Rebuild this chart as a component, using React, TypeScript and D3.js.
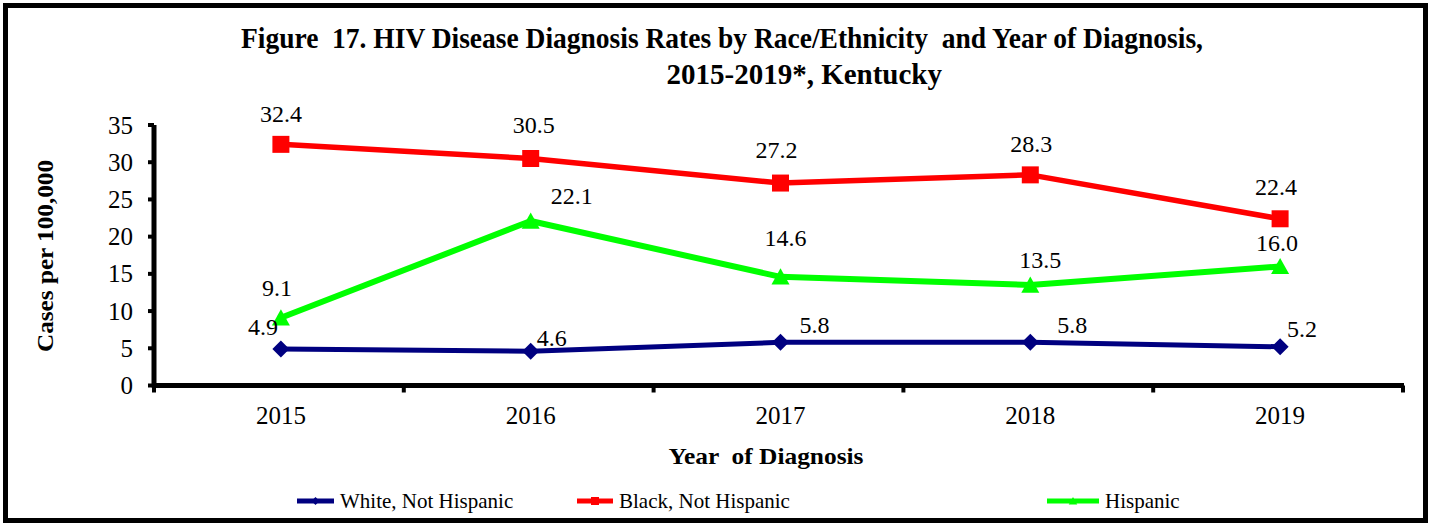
import React from 'react';
import * as d3 from 'd3';

// Diagnosis rates per 100,000 by race/ethnicity, Kentucky 2015-2019
const years = ['2015', '2016', '2017', '2018', '2019'];
const whiteRates = [4.9, 4.6, 5.8, 5.8, 5.2];
const blackRates = [32.4, 30.5, 27.2, 28.3, 22.4];
const hispanicRates = [9.1, 22.1, 14.6, 13.5, 16.0];
const yTicks = [0, 5, 10, 15, 20, 25, 30, 35];

const titleLine1 = 'Figure  17. HIV Disease Diagnosis Rates by Race/Ethnicity  and Year of Diagnosis,';
const titleLine2 = '2015-2019*, Kentucky';
const xTitle = 'Year  of Diagnosis';
const yTitle = 'Cases per 100,000';

// Value-label placement (dx, dy from the marker to the label baseline centre)
const whiteLabelOffsets: [number, number][] = [[-18, -14], [21, -5], [34, -9], [42, -9], [22, -10]];
const blackLabelOffsets: [number, number][] = [[0, -22], [3, -25], [-4, -25], [1, -23], [-4, -24]];
const hispanicLabelOffsets: [number, number][] = [[-4, -22], [41, -17], [5, -31], [10, -17], [-3, -15]];

const W = 1432;
const H = 523;
const FONT = "'Liberation Serif', 'Times New Roman', serif";

type Shape = 'diamond' | 'square' | 'triangle';

function markerPath(shape: Shape, s: number): string {
  const h = s / 2;
  if (shape === 'square') return `M${-h},${-h}H${h}V${h}H${-h}Z`;
  if (shape === 'diamond') return `M0,${-h}L${h},0L0,${h}L${-h},0Z`;
  return `M0,${-h}L${h * 1.06},${h * 0.9}L${-h * 1.06},${h * 0.9}Z`;
}

interface Series {
  name: string;
  values: number[];
  color: string;
  shape: Shape;
  markerSize: number;
  strokeWidth: number;
  offsets: [number, number][];
}

const series: Series[] = [
  { name: 'White, Not Hispanic', values: whiteRates, color: '#000080', shape: 'diamond', markerSize: 17, strokeWidth: 5, offsets: whiteLabelOffsets },
  { name: 'Black, Not Hispanic', values: blackRates, color: '#FF0000', shape: 'square', markerSize: 17, strokeWidth: 5.5, offsets: blackLabelOffsets },
  { name: 'Hispanic', values: hispanicRates, color: '#00FF00', shape: 'triangle', markerSize: 17, strokeWidth: 6, offsets: hispanicLabelOffsets },
];

// Legend entries: line start/end and text start
const legendLayout = [
  { x1: 297, x2: 334, tx: 340 },
  { x1: 577, x2: 613, tx: 619 },
  { x1: 1047, x2: 1099, tx: 1105 },
];

export default function App() {
  const plotLeft = 154;
  const plotRight = 1403;
  const plotBottom = 385.5;
  const plotTop = 125;

  const x = d3.scaleBand<string>().domain(years).range([plotLeft, plotRight]).paddingInner(0).paddingOuter(0);
  const xc = (yr: string) => (x(yr) as number) + x.bandwidth() / 2 + 2;
  const y = d3.scaleLinear().domain([0, 35]).range([plotBottom, plotTop]);
  const fmt = d3.format('.1f');

  const boundaries = [...years.map((yr) => x(yr) as number), plotRight];

  return (
    <svg width={W} height={H} style={{ position: 'absolute', left: 0, top: 0, background: '#fff' }} fontFamily={FONT}>
      <rect x={0} y={0} width={W} height={H} fill="#fff" />
      <rect x={5.5} y={5.5} width={1420} height={515} fill="none" stroke="#000" strokeWidth={5} />

      {/* Title */}
      <text x={241} y={48} fontSize={29} fontWeight="bold" textLength={962} lengthAdjust="spacingAndGlyphs" style={{ whiteSpace: 'pre' }}>
        {titleLine1}
      </text>
      <text x={942} y={84} fontSize={29} fontWeight="bold" textAnchor="end" style={{ whiteSpace: 'pre' }}>
        {titleLine2}
      </text>

      {/* Y axis */}
      <line x1={plotLeft} x2={plotLeft} y1={plotTop} y2={plotBottom + 2} stroke="#000" strokeWidth={5} />
      {yTicks.map((t) => (
        <g key={t}>
          <line x1={plotLeft - 6} x2={plotLeft} y1={y(t)} y2={y(t)} stroke="#000" strokeWidth={4} />
          <text x={133} y={y(t) + 8.5} fontSize={25} textAnchor="end">{t}</text>
        </g>
      ))}

      {/* X axis */}
      <line x1={plotLeft - 2} x2={plotRight + 1} y1={plotBottom} y2={plotBottom} stroke="#000" strokeWidth={5} />
      {boundaries.map((bx, i) => (
        <line key={i} x1={bx} x2={bx} y1={plotBottom} y2={plotBottom + 7} stroke="#000" strokeWidth={4} />
      ))}
      {years.map((yr) => (
        <text key={yr} x={xc(yr)} y={424} fontSize={25} textAnchor="middle">{yr}</text>
      ))}

      {/* Axis titles */}
      <text x={766} y={464} fontSize={24} fontWeight="bold" textAnchor="middle" textLength={195} lengthAdjust="spacingAndGlyphs" style={{ whiteSpace: 'pre' }}>
        {xTitle}
      </text>
      <text transform="translate(53,256) rotate(-90)" fontSize={24} fontWeight="bold" textAnchor="middle" textLength={192} lengthAdjust="spacingAndGlyphs">
        {yTitle}
      </text>

      {/* Series lines and markers */}
      {series.map((s) => {
        const line = d3.line<number>().x((_, i) => xc(years[i])).y((v) => y(v));
        return (
          <g key={s.name}>
            <path d={line(s.values) || ''} fill="none" stroke={s.color} strokeWidth={s.strokeWidth} strokeLinejoin="round" />
            {s.values.map((v, i) => (
              <path key={i} d={markerPath(s.shape, s.markerSize)} transform={`translate(${xc(years[i])},${y(v)})`} fill={s.color} />
            ))}
          </g>
        );
      })}

      {/* Value labels */}
      {series.map((s) =>
        s.values.map((v, i) => (
          <text key={`${s.name}-${i}`} x={xc(years[i]) + s.offsets[i][0]} y={y(v) + s.offsets[i][1]} fontSize={24} textAnchor="middle">
            {fmt(v)}
          </text>
        ))
      )}

      {/* Legend */}
      {series.map((s, i) => {
        const L = legendLayout[i];
        const cy = 501;
        return (
          <g key={s.name}>
            <line x1={L.x1} x2={L.x2} y1={cy} y2={cy} stroke={s.color} strokeWidth={5} />
            <path d={markerPath(s.shape, 8)} transform={`translate(${(L.x1 + L.x2) / 2},${cy})`} fill={s.color} />
            <text x={L.tx} y={508} fontSize={21}>{s.name}</text>
          </g>
        );
      })}
    </svg>
  );
}
